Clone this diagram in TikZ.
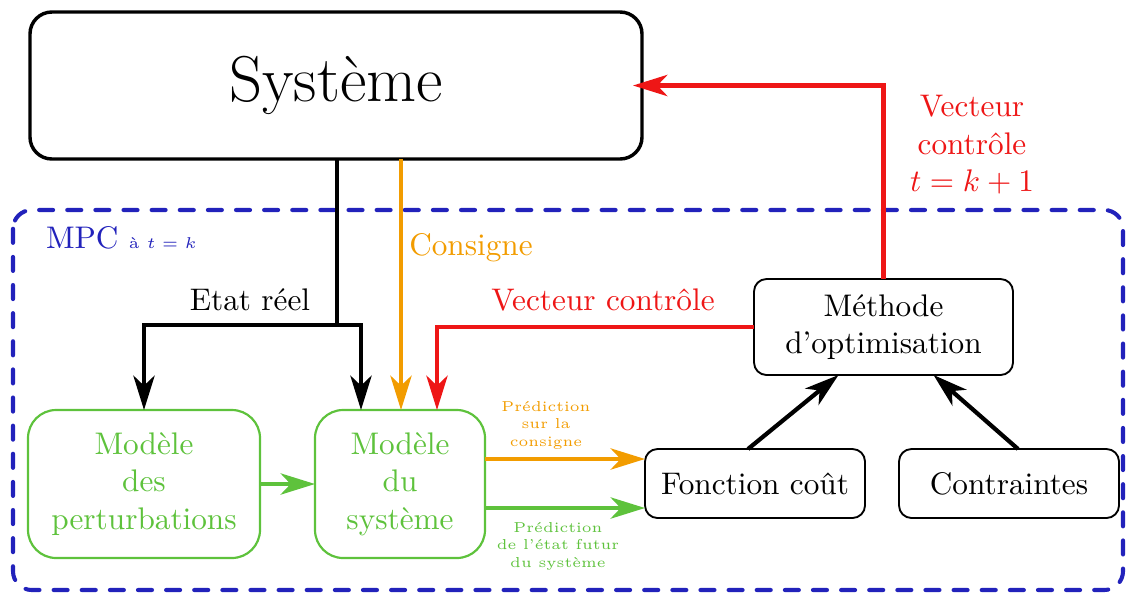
\documentclass[tikz,border=0pt]{standalone}
\usepackage{fontspec}
\usetikzlibrary{arrows.meta,calc}
\definecolor{mpcblue}{RGB}{34,34,187}
\definecolor{myorange}{RGB}{242,156,0}
\definecolor{myred}{RGB}{238,22,22}
\definecolor{mygreen}{RGB}{94,194,60}
\begin{document}
\begin{tikzpicture}[x=0.32pt,y=-0.32pt,
  sysbox/.style={draw=black,line width=1.1pt,rounded corners=7pt,minimum width=195.84pt,minimum height=47.04pt,inner sep=2pt,outer sep=0pt,font=\fontsize{20.74}{25}\selectfont},
  greenbox/.style={draw=mygreen,line width=0.7pt,rounded corners=9pt,text=mygreen,align=center,minimum height=47.36pt,inner sep=2pt,outer sep=0pt},
  blackbox/.style={draw=black,line width=0.6pt,rounded corners=4pt,align=center,inner sep=2pt,outer sep=0pt},
  conn/.style={line width=1.35pt,-{Stealth[length=11pt,width=6.8pt,inset=3.2pt]}},
  plain/.style={line width=1.35pt},
  small/.style={font=\fontsize{4.6}{5.6}\selectfont,align=center}
]
\useasboundingbox (0,0) rectangle (1127,592);
% MPC frame
\draw[mpcblue,line width=1.3pt,line cap=round,dash pattern=on 4.5pt off 4.5pt,rounded corners=6pt] (13,210) rectangle (1123,590);
\node[text=mpcblue,anchor=west] (mpclabel) at (35,238) {MPC {\tiny à $t=k$}};
% nodes
\node[sysbox] (sys) at (336,85.5) {Système};
\node[greenbox,minimum width=74.24pt] (pert) at (144,484) {Modèle\\des\\perturbations};
\node[greenbox,minimum width=54.4pt] (msys) at (400,484) {Modèle\\du\\système};
\node[blackbox,minimum width=70.4pt,minimum height=22.08pt] (cout) at (755,483.5) {Fonction coût};
\node[blackbox,minimum width=70.4pt,minimum height=22.08pt] (contr) at (1009,483.5) {Contraintes};
\node[blackbox,minimum width=82.88pt,minimum height=30.72pt] (optim) at (883.5,327) {Méthode\\d'optimisation};
% coordinates
\coordinate (J) at (337,325);
\coordinate (mB) at ($(msys.north)+(-39,0)$);
\coordinate (mO) at ($(msys.north)+(1,0)$);
\coordinate (mR) at ($(msys.north)+(37,0)$);
\coordinate (sysR) at ($(sys.east)+(-9,0)$);
% black state
\draw[plain] (J |- sys.south) -- (J);
\draw[conn] (J) -| (pert.north);
\draw[conn] (J) -| (mB);
\node (etat) at (250,300) {Etat réel};
% orange consigne
\draw[conn,myorange] (mO |- sys.south) -- (mO);
\node[text=myorange] (consigne) at (471,248) {Consigne};
% red control
\draw[conn,myred] (optim.west) -| (mR);
\node[text=myred] (vc) at (603,300) {Vecteur contrôle};
\draw[conn,myred] (optim.north) |- (sysR);
\node[text=myred,align=center] (vc2) at (972,145) {Vecteur\\contrôle\\$t=k+1$};
% green perturbations
\draw[conn,mygreen] (pert.east) -- (msys.west);
% predictions
\coordinate (pO) at ($(msys.east)+(0,-25)$);
\coordinate (pG) at ($(msys.east)+(0,24)$);
\draw[conn,myorange] (pO) -- (pO -| cout.west);
\draw[conn,mygreen] (pG) -- (pG -| cout.west);
\node[small,text=myorange] (lpO) at (546,425) {Prédiction\\sur la\\consigne};
\node[small,text=mygreen] (lpG) at (558,546) {Prédiction\\de l'état futur\\du système};
% to optimisation
\draw[conn] ($(cout.north)+(-7,0)$) -- ($(optim.south)+(-45,0)$);
\draw[conn] ($(contr.north)+(9,0)$) -- ($(optim.south)+(50,0)$);
\end{tikzpicture}
\end{document}
